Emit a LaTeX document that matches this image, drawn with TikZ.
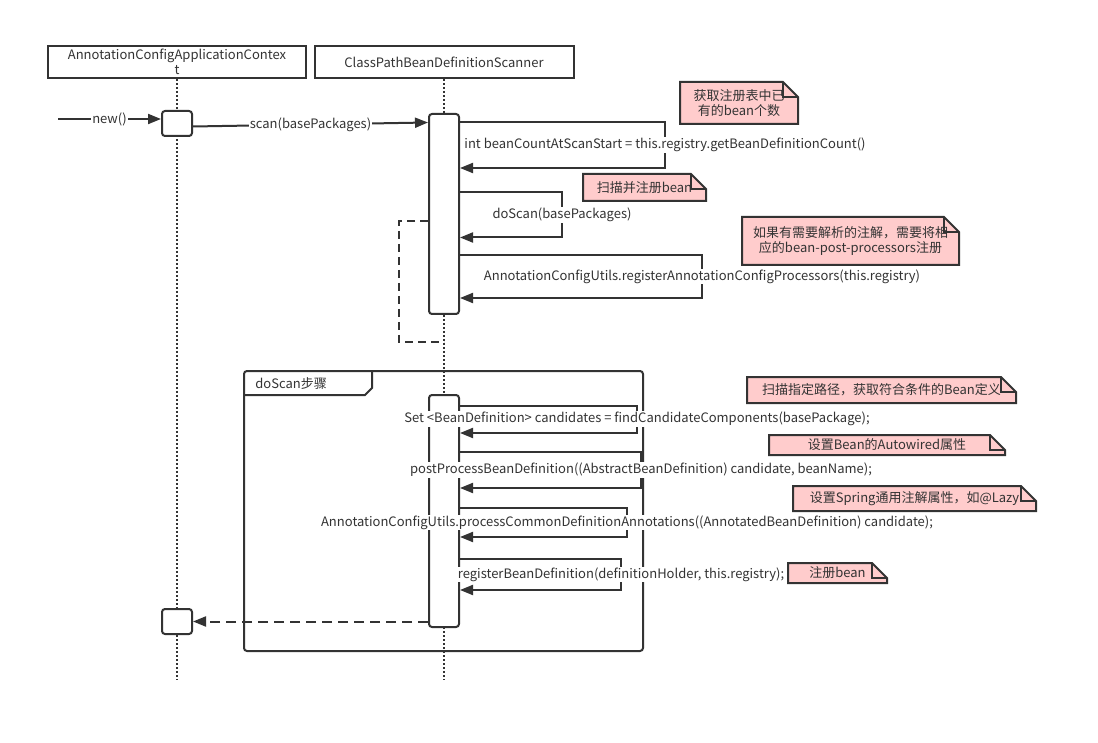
\documentclass[tikz,border=0pt]{standalone}
\usepackage{fontspec}
\setmainfont{Noto Sans CJK SC}
\usepackage{tikz}
\usetikzlibrary{arrows.meta, calc}
\definecolor{linegray}{HTML}{333333}
\definecolor{notepink}{HTML}{FFCCCC}
\tikzset{>={Triangle[length=13pt,width=10pt]}}
% note with folded corner: name, x1, y1, x2, y2, text
\newcommand{\notebox}[6]{%
  \draw[notepaper] (#2,#3) -- (#4-15,#3) -- (#4,#3+15) -- (#4,#5) -- (#2,#5) -- cycle;
  \draw[notepaper, fill=none] (#4-15,#3) |- (#4,#3+15);
  \node[align=center, inner sep=1pt] (#1) at ({(#2+#4)/2},{(#3+#5)/2}) {#6};
}

\begin{document}
\begin{tikzpicture}[x=1pt, y=-1pt, color=linegray, line width=2pt,
  font=\fontsize{13}{15}\selectfont,
  head/.style={draw, fill=white, minimum height=32, inner sep=1pt, align=center},
  act/.style={draw, fill=white, rounded corners=3pt, minimum width=30, inner sep=0pt},
  lifeline/.style={line width=1.6pt, dash pattern=on 1.6pt off 2.4pt},
  lbl/.style={fill=white, inner sep=1pt},
  dashline/.style={dash pattern=on 8pt off 5pt},
  retmsg/.style={->, dash pattern=on 10pt off 6pt},
  notepaper/.style={draw, fill=notepink, line width=2pt}]
\useasboundingbox (0,0) rectangle (1098,743);

% lifeline heads
\node[head, minimum width=258] (ctx) at (177,62) {AnnotationConfigApplicationContex\\t};
\node[head, minimum width=259] (scanner) at (444,62) {ClassPathBeanDefinitionScanner};
\draw[lifeline] (ctx.south) -- (177,680);
\draw[lifeline] (scanner.south) -- (scanner.south |- 0,680);

% doScan frame
\draw[rounded corners=3pt] (244,371) rectangle (643,651);
\draw (244,395) -- (365,395) -- (372,388) -- (372,371);
\node[anchor=west] (framelbl) at (251,384) {doScan步骤};

% activations
\node[act, minimum height=25] (ctxact1) at (177,123.5) {};
\node[act, minimum height=200] (scanact1) at (444,214) {};
\node[act, minimum height=232] (scanact2) at (444,511) {};
\node[act, minimum height=25] (ctxact2) at (177,621.5) {};
\draw[dashline] (scanact1.west |- 0,221) -| (399,342) -- (scanner.south |- 0,342);

% calls
\coordinate (start) at (58,119);
\draw[->] (start) -- node[lbl] {new()} (ctxact1.west |- start);
\draw[->] (ctxact1.east |- 0,126.5) -- node[lbl] {scan(basePackages)} (scanact1.west |- 0,122.5);
\draw[->] (scanact1.east |- 0,122) -- (665,122) -- node[lbl] {int beanCountAtScanStart = this.registry.getBeanDefinitionCount()} (665,168) -- (scanact1.east |- 0,168);
\draw[->] (scanact1.east |- 0,192.5) -- (562,192.5) -- node[lbl] {doScan(basePackages)} (562,237.5) -- (scanact1.east |- 0,237.5);
\draw[->] (scanact1.east |- 0,255) -- (702,255) -- node[lbl] {AnnotationConfigUtils.registerAnnotationConfigProcessors(this.registry)} (702,298) -- (scanact1.east |- 0,298);

% doScan steps
\draw[->] (scanact2.east |- 0,405.5) -- (637,405.5) -- node[lbl] {Set <BeanDefinition> candidates = findCandidateComponents(basePackage);} (637,433) -- (scanact2.east |- 0,433);
\draw[->] (scanact2.east |- 0,452) -- (641,452) -- node[lbl] {postProcessBeanDefinition((AbstractBeanDefinition) candidate, beanName);} (641,488) -- (scanact2.east |- 0,488);
\draw[->] (scanact2.east |- 0,508) -- (627,508) -- node[lbl] {AnnotationConfigUtils.processCommonDefinitionAnnotations((AnnotatedBeanDefinition) candidate);} (627,537) -- (scanact2.east |- 0,537);
\draw[->] (scanact2.east |- 0,559) -- (621,559) -- node[lbl] {registerBeanDefinition(definitionHolder, this.registry);} (621,590) -- (scanact2.east |- 0,590);
\draw[retmsg] (scanact2.west |- ctxact2.east) -- (ctxact2.east);

% notes
\notebox{notecount}{680}{82}{798}{124}{获取注册表中已\\有的bean个数}
\notebox{notescan}{583}{174}{706}{201}{扫描并注册bean}
\notebox{noteproc}{742}{217}{959}{265}{如果有需要解析的注解，需要将相\\应的bean-post-processors注册}
\notebox{notefind}{747}{377}{1016}{403}{扫描指定路径，获取符合条件的Bean定义}
\notebox{noteauto}{769}{435}{1005}{455}{设置Bean的Autowired属性}
\notebox{notelazy}{793}{486}{1036}{511}{设置Spring通用注解属性，如@Lazy}
\notebox{notereg}{788}{563}{887}{583}{注册bean}
\end{tikzpicture}
\end{document}
